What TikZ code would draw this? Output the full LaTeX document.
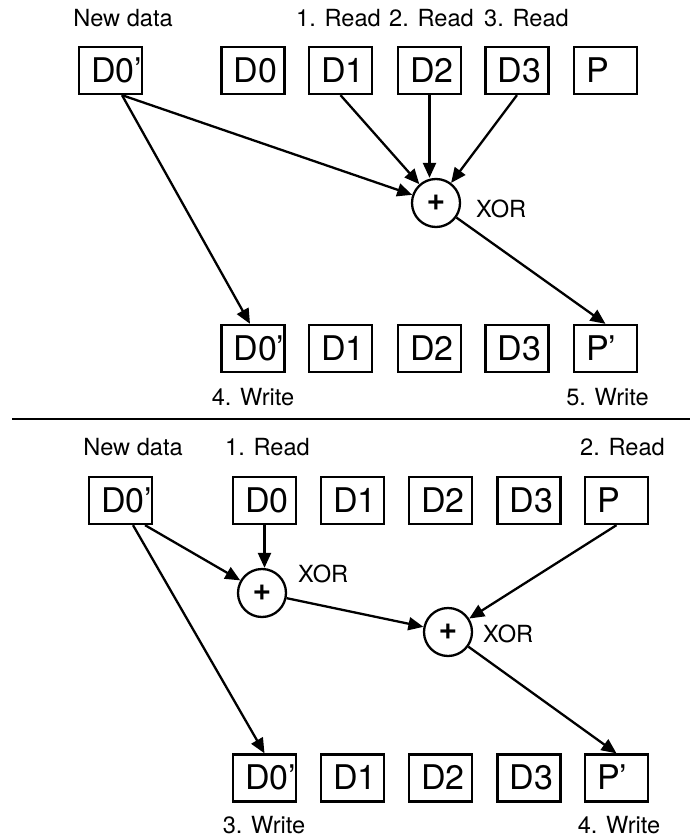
\documentclass[tikz,border=0pt]{standalone}
\usepackage{fontspec}
\setmainfont{TeX Gyre Heros}
\usetikzlibrary{arrows.meta}

\begin{document}
\begin{tikzpicture}[x=0.5pt,y=-0.5pt,line width=1.15pt,>={Triangle[length=7.5pt,width=6.5pt]},
  blk/.style={draw,rectangle,minimum height=23.5pt,text width=19.5pt,inner xsep=6pt,inner ysep=0pt,
    align=left,text height=12.4pt,text depth=0.6pt,font=\fontsize{17}{20}\selectfont},
  lbl/.style={inner sep=0pt,anchor=base,font=\fontsize{11.8}{14}\selectfont},
  xr/.style={draw,circle,minimum size=24pt,inner sep=0pt,font=\fontsize{16}{18}\selectfont\bfseries}]
\useasboundingbox (0,0) rectangle (690,839);
% upper scheme: read all other data blocks
\node[blk] (tn) at (110.5,70.5) {D0'};
\node[blk] (t0) at (253,70.5) {D0};
\node[blk] (t1) at (340.5,70.5) {D1};
\node[blk] (t2) at (429.5,70.5) {D2};
\node[blk] (t3) at (517,70.5) {D3};
\node[blk] (tp) at (605.5,70.5) {P};
\node[blk] (tw0) at (253,348.5) {D0'};
\node[blk] (tw1) at (340.5,348.5) {D1};
\node[blk] (tw2) at (429.5,348.5) {D2};
\node[blk] (tw3) at (517,348.5) {D3};
\node[blk] (tpw) at (605.5,348.5) {P'};
\node[lbl] (tnl) at (123,27) {New data};
\node[lbl] (t1l) at (338.5,27) {1. Read};
\node[lbl] (t2l) at (431.5,27) {2. Read};
\node[lbl] (t3l) at (526.5,27) {3. Read};
\node[lbl] (tw0l) at (253,405) {4. Write};
\node[lbl] (tpwl) at (607.5,405) {5. Write};
\node[xr] (tx) at (436,203) {+};
\node[lbl,anchor=base west] (txl) at (475,218) {XOR};
\coordinate (ts) at ([xshift=5.75pt]tn.south);
\draw[->] (ts) -- (tx);
\draw[->] (ts) -- ([xshift=-1.5pt]tw0.north);
\draw[->] (t1.south) -- (tx);
\draw[->] (t2.south) -- (t2.south |- tx.north);
\draw[->] (t3.south) -- (tx);
\draw[->] (tx) -- (tpw.north);
% separator
\coordinate (rl) at (12,419);
\coordinate (rr) at (690,419);
\draw (rl) -- (rr);
% lower scheme: read old data and parity
\node[blk] (bn) at (120.5,500.5) {D0'};
\node[blk] (b0) at (264.5,500.5) {D0};
\node[blk] (b1) at (352.5,500.5) {D1};
\node[blk] (b2) at (440.5,500.5) {D2};
\node[blk] (b3) at (529,500.5) {D3};
\node[blk] (bp) at (616.5,500.5) {P};
\node[blk] (bw0) at (264.5,778) {D0'};
\node[blk] (bw1) at (352.5,778) {D1};
\node[blk] (bw2) at (440.5,778) {D2};
\node[blk] (bw3) at (529,778) {D3};
\node[blk] (bpw) at (616.5,778) {P'};
\node[lbl] (bnl) at (133,455) {New data};
\node[lbl] (b0l) at (267.5,455) {1. Read};
\node[lbl] (bpl) at (622.5,455) {2. Read};
\node[lbl] (bw0l) at (264,833) {3. Write};
\node[lbl] (bpwl) at (619,833) {4. Write};
\node[xr] (bx1) at (262,593) {+};
\node[xr] (bx2) at (448,632) {+};
\node[lbl,anchor=base west] (bx1l) at (297,582) {XOR};
\node[lbl,anchor=base west] (bx2l) at (482,642) {XOR};
\coordinate (bs1) at ([xshift=6.25pt]bn.south);
\coordinate (bs2) at ([xshift=12.25pt]bn.south);
\draw[->] (bs2) -- (bx1);
\draw[->] (bs1) -- (bw0.north);
\draw[->] (b0.south) -- (b0.south |- bx1.north);
\draw[->] (bx1) -- (bx2);
\draw[->] (bp.south) -- (bx2);
\draw[->] (bx2) -- (bpw.north);
\end{tikzpicture}
\end{document}
